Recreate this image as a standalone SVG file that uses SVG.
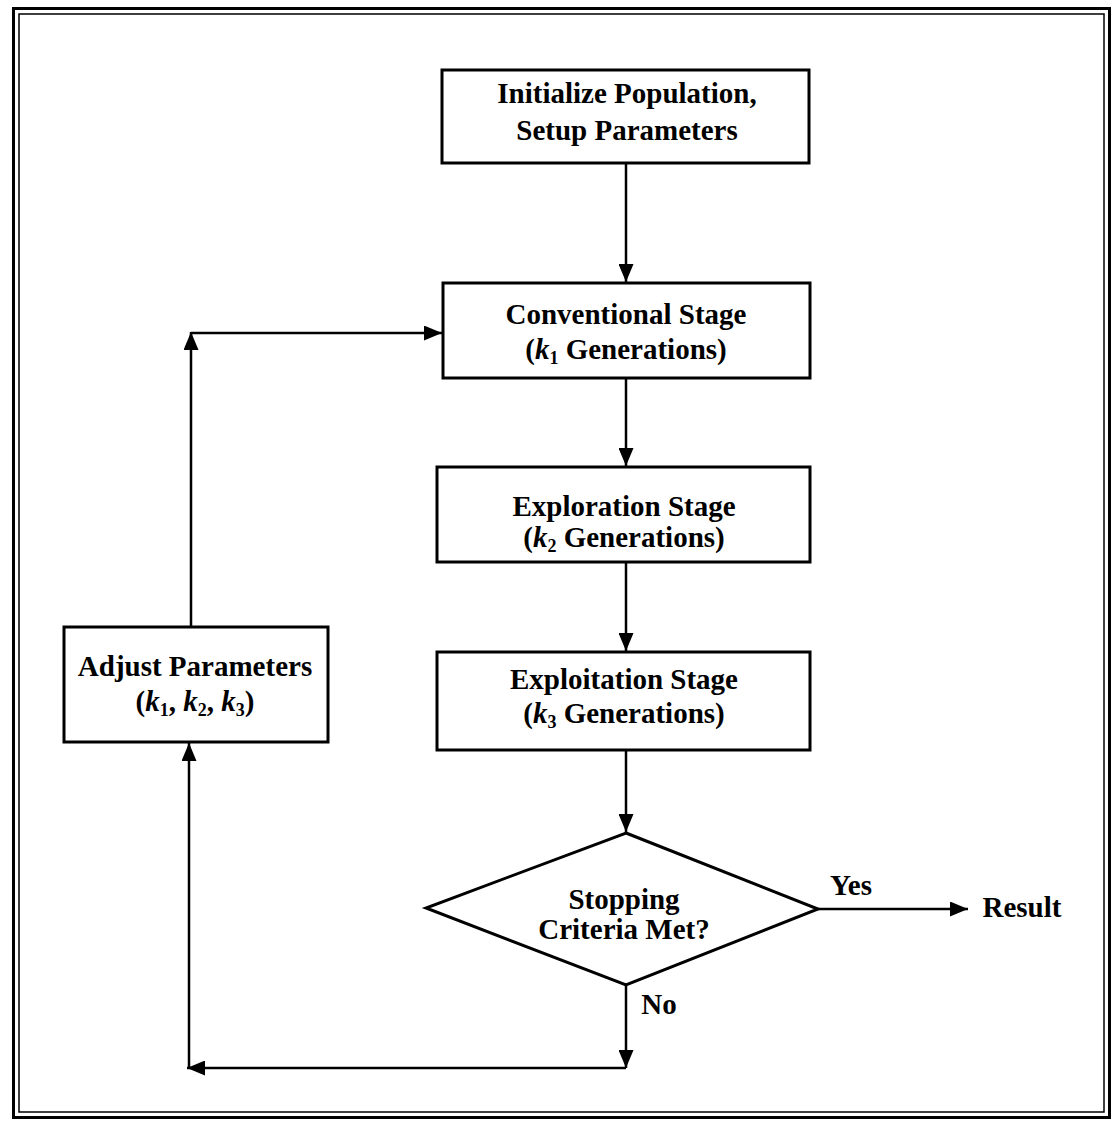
<svg xmlns="http://www.w3.org/2000/svg" width="1113" height="1121" viewBox="0 0 1113 1121">
<style>
.box{fill:#fff;stroke:#000;stroke-width:3}
.t{font-family:"Liberation Serif","Times New Roman",serif;font-weight:bold;font-size:29px;fill:#000;text-anchor:middle}
.i{font-style:italic}
.s{font-size:18px}
.c{fill:none;stroke:#000;stroke-width:2.5}
</style>
<defs>
<marker id="ah" markerUnits="userSpaceOnUse" markerWidth="18" markerHeight="15" refX="18" refY="7.5" orient="auto">
<path d="M0,0 L18,7.5 L0,15 z" fill="#000"/>
</marker>
</defs>
<rect width="1113" height="1121" fill="#fff"/>
<rect x="13.5" y="8.5" width="1096" height="1109" fill="none" stroke="#000" stroke-width="3"/>
<rect x="19" y="14" width="1085" height="1098" fill="none" stroke="#000" stroke-width="1.5"/>

<g id="connectors">
<line class="c" x1="626" y1="163" x2="626" y2="282" marker-end="url(#ah)"/>
<line class="c" x1="626" y1="378" x2="626" y2="466" marker-end="url(#ah)"/>
<line class="c" x1="626" y1="562" x2="626" y2="651" marker-end="url(#ah)"/>
<line class="c" x1="626" y1="750" x2="626" y2="832" marker-end="url(#ah)"/>
<line class="c" x1="818" y1="909" x2="968" y2="909" marker-end="url(#ah)"/>
<line class="c" x1="626" y1="985" x2="626" y2="1068" marker-end="url(#ah)"/>
<line class="c" x1="626" y1="1068" x2="187" y2="1068" marker-end="url(#ah)"/>
<line class="c" x1="189" y1="1068" x2="189" y2="743" marker-end="url(#ah)"/>
<line class="c" x1="191" y1="627" x2="191" y2="332" marker-end="url(#ah)"/>
<line class="c" x1="191" y1="333" x2="442" y2="333" marker-end="url(#ah)"/>
</g>

<g id="init">
<rect class="box" x="442" y="70" width="367" height="93"/>
<text class="t" x="627" y="103">Initialize Population,</text>
<text class="t" x="627" y="140">Setup Parameters</text>
</g>

<g id="conventional">
<rect class="box" x="443" y="283" width="367" height="95"/>
<text class="t" x="626" y="324">Conventional Stage</text>
<text class="t" x="626" y="359">(<tspan class="i">k</tspan><tspan class="s" dy="5">1</tspan><tspan dy="-5"> Generations)</tspan></text>
</g>

<g id="exploration">
<rect class="box" x="437" y="467" width="373" height="95"/>
<text class="t" x="624" y="516">Exploration Stage</text>
<text class="t" x="624" y="547">(<tspan class="i">k</tspan><tspan class="s" dy="5">2</tspan><tspan dy="-5"> Generations)</tspan></text>
</g>

<g id="exploitation">
<rect class="box" x="437" y="652" width="373" height="98"/>
<text class="t" x="624" y="689">Exploitation Stage</text>
<text class="t" x="624" y="723">(<tspan class="i">k</tspan><tspan class="s" dy="5">3</tspan><tspan dy="-5"> Generations)</tspan></text>
</g>

<g id="adjust">
<rect class="box" x="64" y="627" width="264" height="115"/>
<text class="t" x="195" y="676">Adjust Parameters</text>
<text class="t" x="195" y="711">(<tspan class="i">k</tspan><tspan class="s" dy="5">1</tspan><tspan dy="-5">, </tspan><tspan class="i">k</tspan><tspan class="s" dy="5">2</tspan><tspan dy="-5">, </tspan><tspan class="i">k</tspan><tspan class="s" dy="5">3</tspan><tspan dy="-5">)</tspan></text>
</g>

<g id="decision">
<polygon points="626,833 818,909 626,985 426,908" fill="#fff" stroke="#000" stroke-width="3"/>
<text class="t" x="624" y="909">Stopping</text>
<text class="t" x="624" y="939">Criteria Met?</text>
</g>

<g id="labels">
<text class="t" x="851" y="895">Yes</text>
<text class="t" x="659" y="1014">No</text>
</g>

<g id="result">
<text class="t" x="1022" y="917">Result</text>
</g>
</svg>
